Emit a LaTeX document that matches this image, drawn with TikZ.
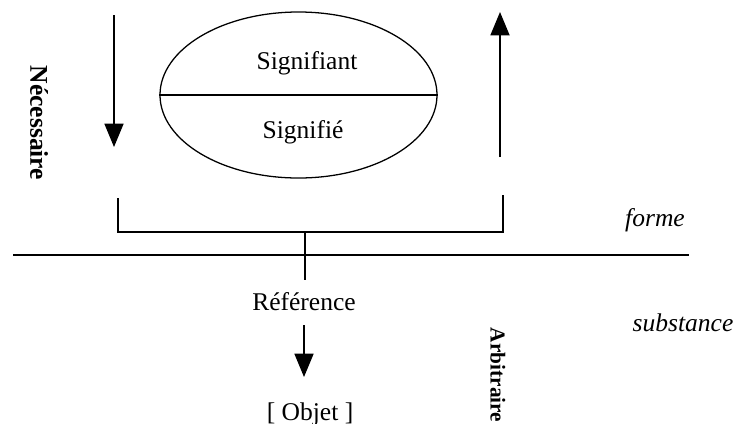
\documentclass[tikz,border=0pt]{standalone}
\usepackage{fontspec}
\setmainfont{Liberation Serif}
\usetikzlibrary{arrows.meta,shapes.geometric}
\tikzset{
  ln/.style={line width=0.6pt},
  arr/.style={ln,-{Triangle[width=9pt,length=11pt]}},
  lbl/.style={font=\fontsize{12}{14}\selectfont,inner sep=0pt},
  ital/.style={lbl,font=\fontsize{12}{14}\selectfont\itshape},
  vert/.style={font=\fontsize{12}{14}\selectfont\bfseries,rotate=-90,inner sep=0pt}
}
\begin{document}
\begin{tikzpicture}[x=0.47pt,y=-0.47pt]
\useasboundingbox (0,0) rectangle (734,423);
% ellipse
\node[ellipse,draw,ln,minimum width=277*0.47pt,minimum height=166*0.47pt,inner sep=0pt] (sign) at (298.5,95) {};
\draw[ln] (sign.west) -- (sign.east);
\node[lbl] (sa) at (307,63) {Signifiant};
\node[lbl] (se) at (303,132) {Signifié};
% vertical arrows
\coordinate (ltop) at (114,15);
\coordinate (lbot) at (114,147);
\draw[arr] (ltop) -- (lbot);
\coordinate (rbot) at (500,157);
\coordinate (rtop) at (500,12);
\draw[arr] (rbot) -- (rtop);
% bracket
\coordinate (bl) at (118,198);
\coordinate (br) at (503,195);
\coordinate (mid) at (305,232);
\draw[ln] (bl) |- (mid) -| (br);
% horizontal divider
\coordinate (hl) at (13,255);
\coordinate (hr) at (689,255);
\draw[ln] (hl) -- (hr);
% reference
\node[lbl] (ref) at (304,302) {Référence};
\coordinate (refup) at (305,280);
\draw[ln] (mid) -- (refup);
\node[ital] (forme) at (655,220) {forme};
\node[ital] (subst) at (683,323) {substance};
% object arrow
\coordinate (otop) at (304,325);
\coordinate (obot) at (304,377);
\draw[arr] (otop) -- (obot);
\node[lbl] (obj) at (310,414) {[ Objet ]};
% rotated labels
\node[vert] (nec) at (39,123) {Nécessaire};
\node[vert,font=\fontsize{10}{12}\selectfont\bfseries] (arb) at (498,375) {Arbitraire};
\end{tikzpicture}
\end{document}
